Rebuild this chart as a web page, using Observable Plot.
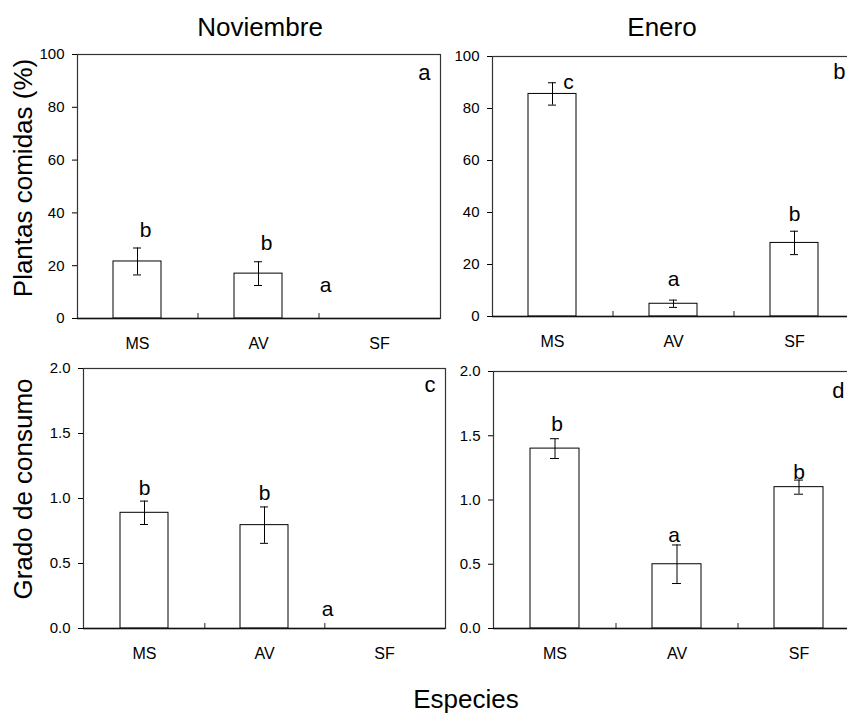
<!DOCTYPE html>
<html><head><meta charset="utf-8">
<script src="https://cdn.jsdelivr.net/npm/d3@7"></script>
<script src="https://cdn.jsdelivr.net/npm/@observablehq/plot@0.6"></script>
<style>
html,body{margin:0;padding:0;background:#fff;overflow:hidden}
#fig{position:relative;width:847px;height:715px;overflow:hidden;background:#fff;font-family:"Liberation Sans",Arial,sans-serif}
#fig svg{position:absolute;background:transparent;overflow:visible;max-width:none}
</style></head><body><div id="fig"></div>
<script>
// ---- data ----
const species = ["MS", "AV", "SF"];
const novPct = [21.6, 17.0, 0];
const novPctErr = [5.1, 4.5, 0];
const novPctLetters = ["b", "b", "a"];
const enePct = [85.6, 4.9, 28.3];
const enePctErr = [4.3, 1.4, 4.5];
const enePctLetters = ["c", "a", "b"];
const novGrado = [0.89, 0.795, 0];
const novGradoErr = [0.09, 0.14, 0];
const novGradoLetters = ["b", "b", "a"];
const eneGrado = [1.40, 0.50, 1.10];
const eneGradoErr = [0.077, 0.15, 0.055];
const eneGradoLetters = ["b", "a", "b"];
const pctTicks = [0, 20, 40, 60, 80, 100];
const gradoTicks = [0, 0.5, 1.0, 1.5, 2.0];
const monthTitles = ["Noviembre", "Enero"];
const yTitles = ["Plantas comidas (%)", "Grado de consumo"];
const xTitle = "Especies";

const FONT = "Liberation Sans, Arial, Helvetica, sans-serif";
const fig = document.getElementById("fig");

function panel(cfg) {
  const rows = species.map((s, i) => ({sp: s, v: cfg.values[i], e: cfg.errors[i], L: cfg.letters[i]}));
  const innerH = cfg.height - cfg.mt - cfg.mb;
  const innerW = cfg.width - cfg.ml - cfg.mr;
  const step = innerW / species.length;
  const withErr = rows.filter(d => d.e > 0);
  const letterMarks = rows.map((r, i) => Plot.text([r], {
    x: "sp", y: d => d.v + d.e, text: "L",
    dx: cfg.letterOff[i][0], dy: cfg.letterOff[i][1],
    fontSize: 21, fontFamily: FONT, fill: "black"
  }));
  const chart = Plot.plot({
    width: cfg.width, height: cfg.height,
    marginLeft: cfg.ml, marginRight: cfg.mr, marginTop: cfg.mt, marginBottom: cfg.mb,
    style: {fontFamily: FONT, background: "transparent", overflow: "visible"},
    x: {domain: species, paddingInner: 0.6, paddingOuter: 0.3, label: null},
    y: {domain: cfg.domain, label: null},
    marks: [
      Plot.barY(rows, {x: "sp", y: "v", fill: "white", stroke: "black", strokeWidth: 1}),
      Plot.ruleX(withErr, {x: "sp", y1: d => d.v - d.e, y2: d => d.v + d.e, stroke: "black", strokeWidth: 1}),
      Plot.tickY(withErr, {x: "sp", y: d => d.v + d.e, insetLeft: 20, insetRight: 20, stroke: "black", strokeWidth: 1}),
      Plot.tickY(withErr, {x: "sp", y: d => d.v - d.e, insetLeft: 20, insetRight: 20, stroke: "black", strokeWidth: 1}),
      Plot.ruleX(species.slice(0, -1), {x: d => d, dx: step / 2, insetTop: innerH - 5, stroke: "#222", strokeWidth: 1}),
      Plot.frame({stroke: "#333", strokeWidth: 1.2}),
      Plot.ruleY([cfg.domain[0]], {stroke: "#111", strokeWidth: 1.5}),
      Plot.axisY({ticks: cfg.ticks, tickFormat: cfg.format, tickSize: 5, tickPadding: 8, fontSize: 15, fontFamily: FONT}),
      Plot.axisX({tickSize: 0, tickPadding: 19, fontSize: 16, fontFamily: FONT}),
      ...letterMarks,
      Plot.text([cfg.tag], {frameAnchor: "top-right", text: d => d, dx: cfg.tagDx, dy: cfg.tagDy,
        lineAnchor: "bottom", textAnchor: "end", fontSize: 22, fontFamily: FONT, fill: "black"})
    ]
  });
  chart.style.left = cfg.left + "px";
  chart.style.top = cfg.top + "px";
  fig.appendChild(chart);
}

const fmtInt = d3.format("d");
const fmt1 = d3.format(".1f");

panel({values: novPct, errors: novPctErr, letters: novPctLetters, domain: [0, 100], ticks: pctTicks, format: fmtInt,
  tag: "a", left: 0, top: 0, width: 450, height: 360, ml: 77, mr: 10, mt: 54, mb: 42, tagDx: -10, tagDy: 25,
  letterOff: [[8, -18], [8, -18], [-54, -33]]});
panel({values: enePct, errors: enePctErr, letters: enePctLetters, domain: [0, 100], ticks: pctTicks, format: fmtInt,
  tag: "b", left: 420, top: 0, width: 445, height: 360, ml: 72, mr: 10, mt: 56, mb: 44, tagDx: -10, tagDy: 22,
  letterOff: [[16, 0], [0, -21], [0, -17]]});
panel({values: novGrado, errors: novGradoErr, letters: novGradoLetters, domain: [0, 2], ticks: gradoTicks, format: fmt1,
  tag: "c", left: 0, top: 340, width: 455, height: 340, ml: 83, mr: 10, mt: 28, mb: 52, tagDx: -10, tagDy: 23,
  letterOff: [[0, -13], [0, -14], [-57, -19]]});
panel({values: eneGrado, errors: eneGradoErr, letters: eneGradoLetters, domain: [0, 2], ticks: gradoTicks, format: fmt1,
  tag: "d", left: 420, top: 340, width: 449, height: 340, ml: 73, mr: 10, mt: 31, mb: 52, tagDx: -15, tagDy: 26,
  letterOff: [[2, -14], [-3, -10], [0, -8]]});

// ---- overlay titles ----
const ov = d3.select(fig).append("svg")
  .attr("width", 847).attr("height", 715)
  .style("left", "0px").style("top", "0px").style("pointer-events", "none")
  .attr("font-family", FONT).attr("font-size", 26).attr("fill", "black");
ov.append("text").attr("x", 260).attr("y", 36).attr("text-anchor", "middle").text(monthTitles[0]);
ov.append("text").attr("x", 662).attr("y", 36).attr("text-anchor", "middle").text(monthTitles[1]);
ov.append("text").attr("x", 466).attr("y", 708).attr("text-anchor", "middle").text(xTitle);
ov.append("text").attr("transform", "translate(32,178) rotate(-90)").attr("text-anchor", "middle").text(yTitles[0]);
ov.append("text").attr("transform", "translate(32,489) rotate(-90)").attr("text-anchor", "middle").text(yTitles[1]);
</script></body></html>
